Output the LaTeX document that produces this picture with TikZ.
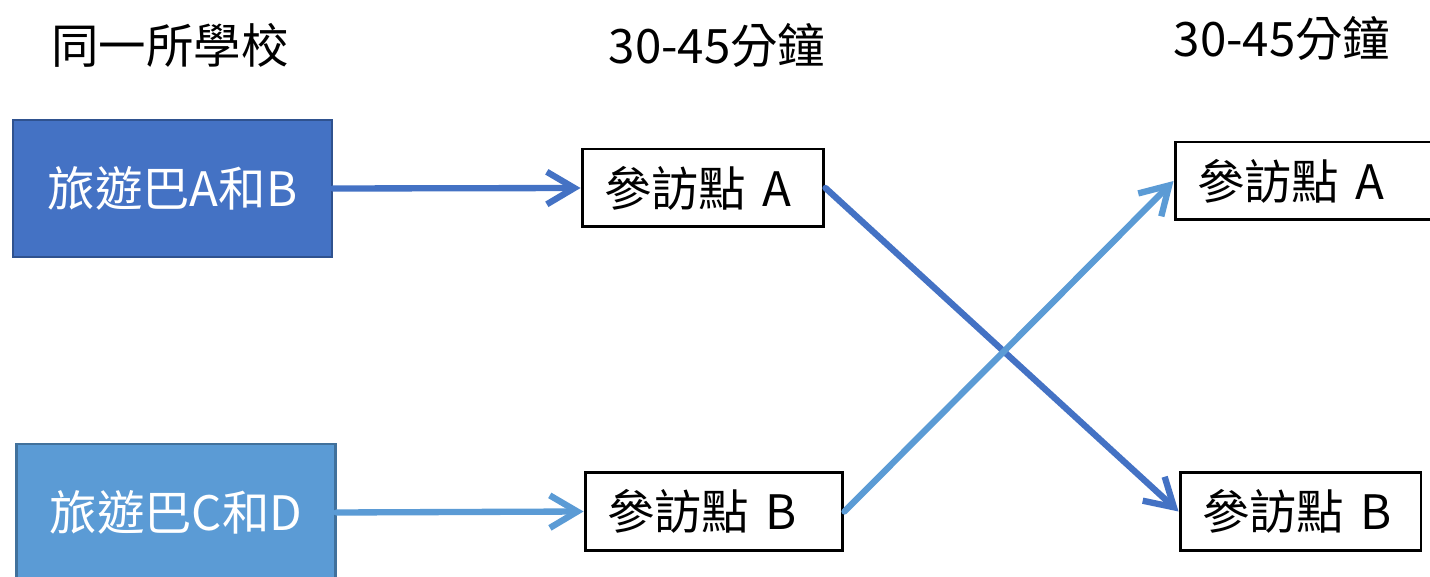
\documentclass[tikz,border=0pt]{standalone}
\usepackage{fontspec}
\setmainfont{Noto Sans CJK TC}
\usetikzlibrary{arrows.meta}
\definecolor{busdark}{HTML}{4472C4}
\definecolor{busdarkline}{HTML}{2F528F}
\definecolor{buslight}{HTML}{5B9BD5}
\definecolor{buslightline}{HTML}{41719C}

\begin{document}
\begin{tikzpicture}[x=0.02cm,y=-0.02cm,
  font=\fontsize{27}{31}\selectfont,
  bus/.style={draw, line width=1.2pt, text=white, minimum width=6.38cm, minimum height=2.74cm},
  stop/.style={draw, line width=1.7pt, align=left, inner xsep=0.44cm, minimum height=1.56cm},
  link/.style={line width=3.6pt, line cap=round, -{Straight Barb[length=0.55cm,width=0.65cm]}}]
\clip (0,0) rectangle (1430,577);
% headings
\node (school) at (170,45) {同一所學校};
\node (timeA) at (717,45) {30-45分鐘};
\node (timeB) at (1282,38) {30-45分鐘};
% buses
\node[bus, fill=busdark, draw=busdarkline] (ab) at (172.5,188.5) {旅遊巴A和B};
\node[bus, fill=buslight, draw=buslightline] (cd) at (176,512.5) {旅遊巴C和D};
% visits
\node[stop, text width=3.96cm] (midA) at (703,188) {參訪點 A};
\node[stop, text width=4.28cm] (midB) at (714,511.5) {參訪點 B};
\node[stop, text width=4.52cm] (rightA) at (1310,181) {參訪點 A};
\node[stop, text width=3.94cm] (rightB) at (1300.5,511.5) {參訪點 B};
% arrows
\draw[link, busdark] (ab.east) -- (midA.west);
\draw[link, buslight] (cd.east) -- (midB.west);
\draw[link, busdark] (midA.east) -- (rightB.west);
\draw[link, buslight] (midB.east) -- (rightA.west);
\end{tikzpicture}
\end{document}
